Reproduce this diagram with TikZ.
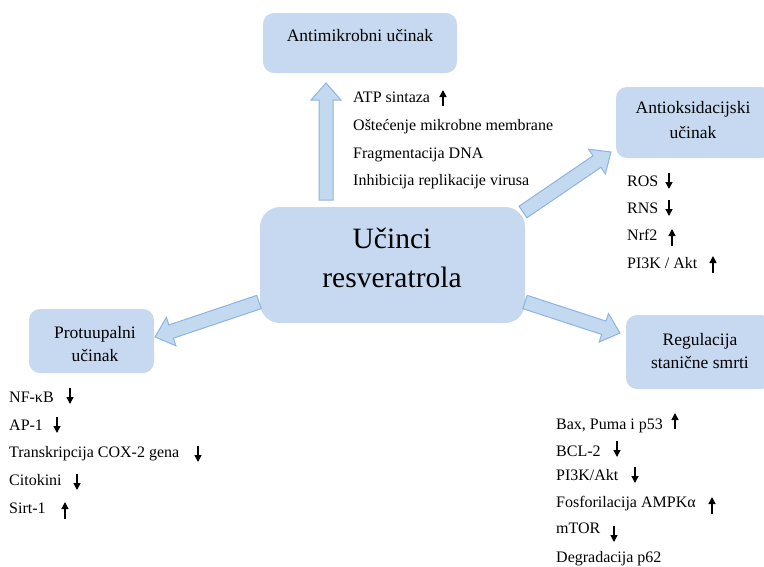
\documentclass[tikz,border=0pt]{standalone}
\usepackage{fontspec}
\setmainfont{Liberation Serif}
\usetikzlibrary{arrows.meta}
\definecolor{boxblue}{RGB}{198,217,240}
\definecolor{arrfill}{RGB}{194,217,240}
\definecolor{arrdraw}{RGB}{141,180,226}
\newcommand{\blockarrow}[4]{%
  \begin{scope}[shift={(#1,#2)},rotate=#3]
    \path[fill=arrfill,draw=arrdraw,line width=1pt,line join=miter]
      (0,-7) -- ({#4-17},-7) -- ({#4-17},-15) -- (#4,0) -- ({#4-17},15) -- ({#4-17},7) -- (0,7) -- cycle;
  \end{scope}}
\begin{document}
\begin{tikzpicture}[x=1pt,y=-1pt,
  box/.style={fill=boxblue,rounded corners=11pt,inner sep=0pt},
  title/.style={anchor=base,inner sep=0pt,font=\fontsize{17.5}{20}\selectfont},
  item/.style={anchor=base west,inner sep=0pt,font=\fontsize{16}{19}\selectfont},
  glyph/.style={line width=1.4pt,-{Triangle[length=7pt,width=7pt]}}]
\useasboundingbox (0,0) rectangle (764,566);

% boxes
\node[box,minimum width=194pt,minimum height=60pt] (amb) at (360,43) {};
\node[box,minimum width=156pt,minimum height=71pt] (aox) at (694,122.5) {};
\node[box,minimum width=265pt,minimum height=116pt,rounded corners=20pt] (main) at (392.5,265) {};
\node[box,minimum width=125pt,minimum height=64pt] (pro) at (91.5,341) {};
\node[box,minimum width=146pt,minimum height=74pt] (reg) at (699,352) {};

% titles
\node[title] (ambT) at (360,41) {Antimikrobni učinak};
\node[title] (aoxT1) at (693,113) {Antioksidacijski};
\node[title] (aoxT2) at (693,138) {učinak};
\node[title,font=\fontsize{29.5}{34}\selectfont] (mainT1) at (392,248) {Učinci};
\node[title,font=\fontsize{29.5}{34}\selectfont] (mainT2) at (392,287) {resveratrola};
\node[title] (proT1) at (95,338) {Protuupalni};
\node[title] (proT2) at (95,361) {učinak};
\node[title] (regT1) at (700,345) {Regulacija};
\node[title] (regT2) at (700,368) {stanične smrti};

% block arrows
\blockarrow{326}{200}{90}{117}
\blockarrow{523}{212}{34.3}{106.5}
\blockarrow{259}{302}{198.6}{109.7}
\blockarrow{525}{302}{-18.1}{99.9}

% antimicrobial list
\node[item] (am1) at (353,102) {ATP sintaza};
\node[item] (am2) at (353,130) {Oštećenje mikrobne membrane};
\node[item] (am3) at (353,158) {Fragmentacija DNA};
\node[item] (am4) at (353,185) {Inhibicija replikacije virusa};
\draw[glyph] (443,106) -- (443,90);

% antioxidant list
\node[item] (ao1) at (627,186) {ROS};
\node[item] (ao2) at (627,213) {RNS};
\node[item] (ao3) at (627,240) {Nrf2};
\node[item] (ao4) at (627,268) {PI3K / Akt};
\draw[glyph] (669,173) -- (669,189);
\draw[glyph] (669,200) -- (669,216);
\draw[glyph] (672,246) -- (672,229);
\draw[glyph] (713,273) -- (713,256);

% anti-inflammatory list
\node[item] (pr1) at (9,402) {NF-κB};
\node[item] (pr2) at (9,430) {AP-1};
\node[item] (pr3) at (9,457) {Transkripcija COX-2 gena};
\node[item] (pr4) at (9,485) {Citokini};
\node[item] (pr5) at (9,513) {Sirt-1};
\draw[glyph] (70,388) -- (70,404);
\draw[glyph] (57,417) -- (57,433);
\draw[glyph] (198,446) -- (198,462);
\draw[glyph] (77,474) -- (77,490);
\draw[glyph] (65,519) -- (65,502);

% cell death list
\node[item] (rg1) at (556,429) {Bax, Puma i p53};
\node[item] (rg2) at (556,456) {BCL-2};
\node[item] (rg3) at (556,480) {PI3K/Akt};
\node[item] (rg4) at (556,507) {Fosforilacija AMPKα};
\node[item] (rg5) at (556,533) {mTOR};
\node[item] (rg6) at (556,562) {Degradacija p62};
\draw[glyph] (675,429) -- (675,413);
\draw[glyph] (617,441) -- (617,457);
\draw[glyph] (635,467) -- (635,483);
\draw[glyph] (712,514) -- (712,497);
\draw[glyph] (614,526) -- (614,542);
\end{tikzpicture}
\end{document}
